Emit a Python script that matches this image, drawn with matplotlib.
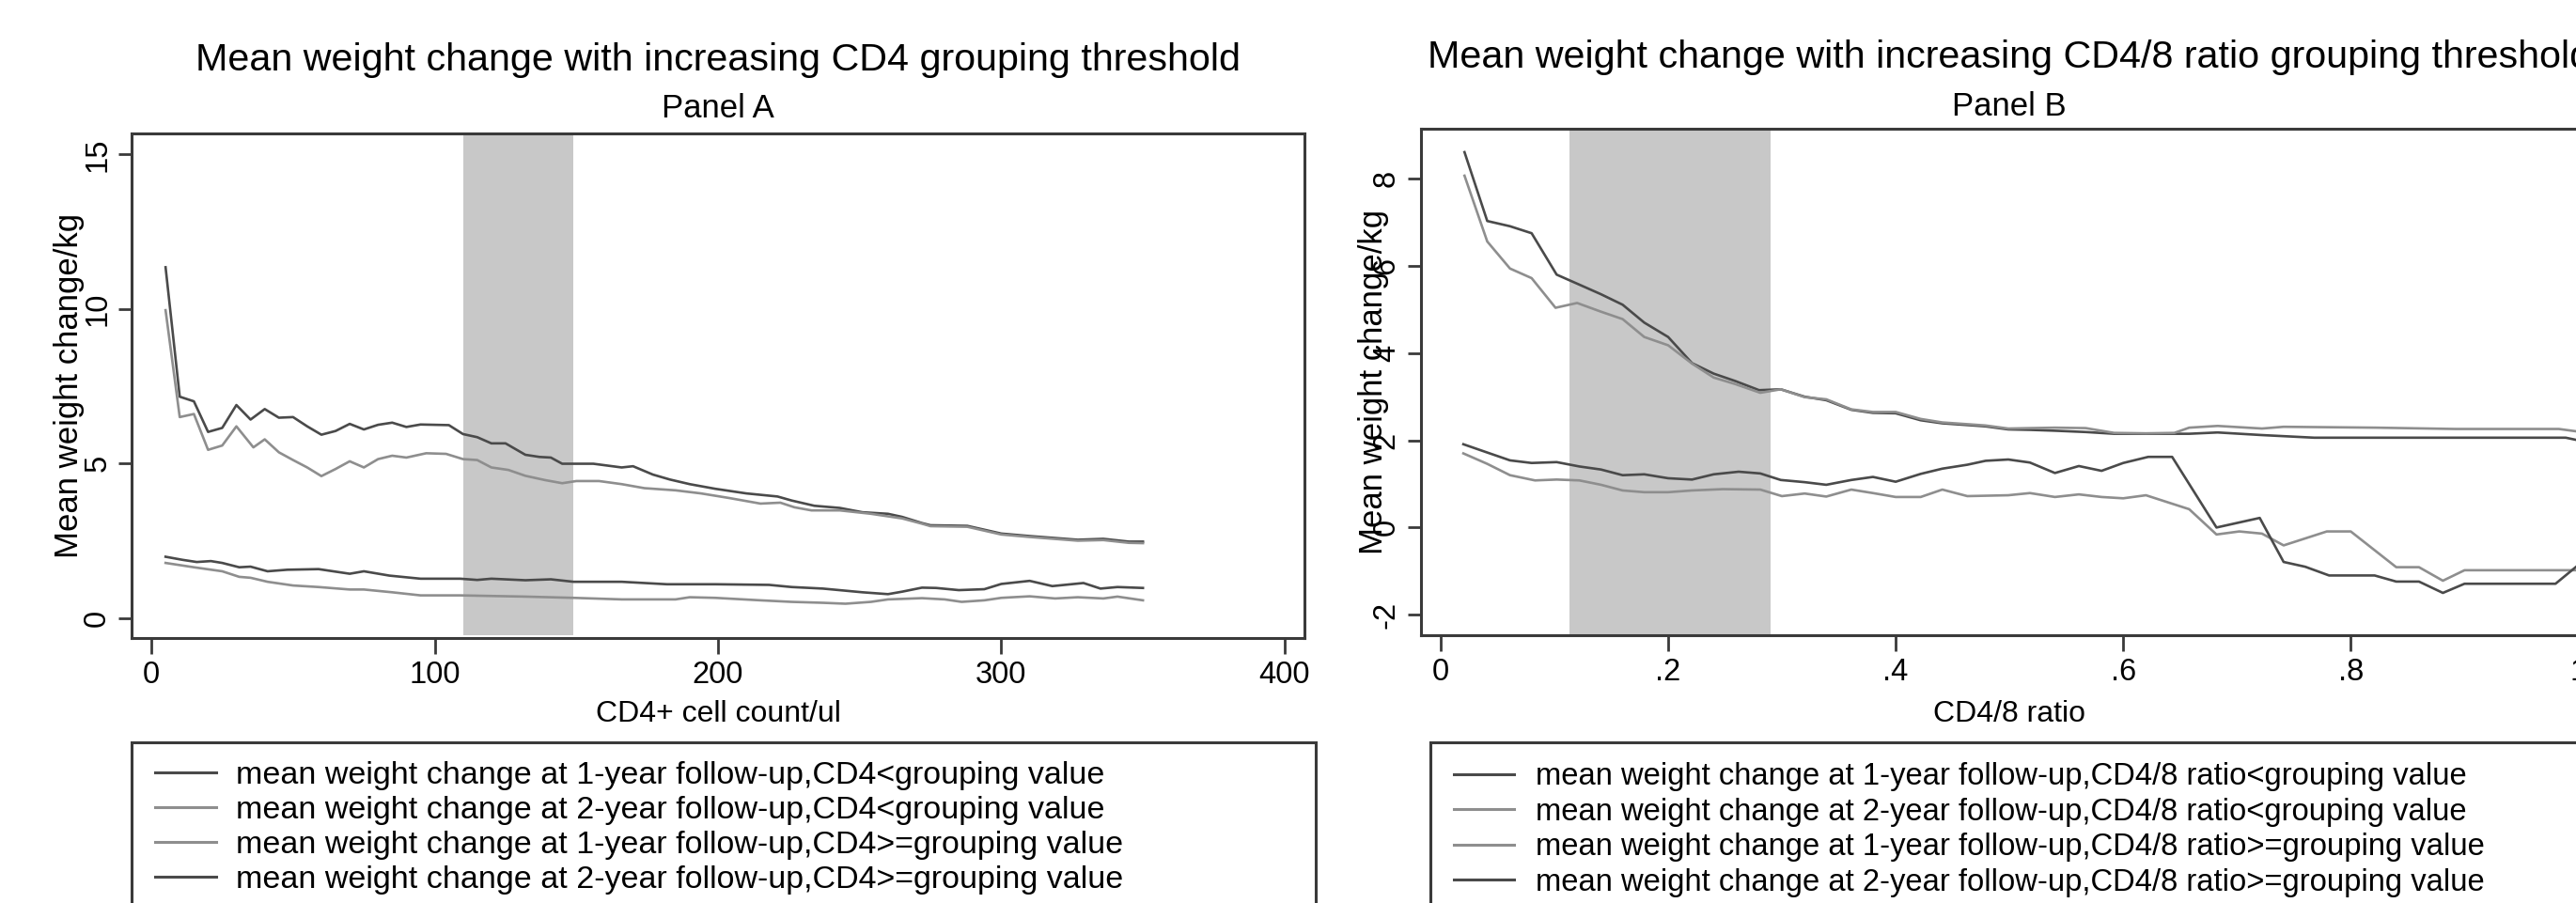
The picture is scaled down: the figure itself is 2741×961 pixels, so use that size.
import matplotlib
matplotlib.use('Agg')
import matplotlib.pyplot as plt
from matplotlib.lines import Line2D
from matplotlib.patches import Rectangle

plt.rcParams['font.family'] = ['Liberation Sans', 'DejaVu Sans']

# figure size in pixels
W, H = 2741, 961
DARK = '#4a4a4a'
LIGHT = '#8e8e8e'
SHADE = '#c8c8c8'

# ---- Panel A: CD4 threshold ----
a_x_1yr_lo = [5, 10, 15, 20, 25, 30, 35, 40, 45, 50, 55, 60, 65, 70, 75, 80, 85, 90, 95, 105,
              110, 115, 120, 125, 132, 137, 141, 145, 156, 166, 170, 177, 183, 190, 199, 210,
              221, 226, 234, 243, 251, 260, 265, 272, 275, 288, 300, 310, 327, 336, 345, 350]
a_1yr_lo = [11.35, 7.16, 7.01, 6.02, 6.15, 6.89, 6.42, 6.76, 6.48, 6.5, 6.2, 5.93, 6.05, 6.28,
            6.1, 6.25, 6.32, 6.18, 6.26, 6.24, 5.95, 5.85, 5.65, 5.65, 5.28, 5.21, 5.19, 4.99,
            4.99, 4.87, 4.91, 4.64, 4.48, 4.33, 4.18, 4.03, 3.93, 3.8, 3.63, 3.56, 3.42, 3.37,
            3.27, 3.07, 3.0, 2.98, 2.73, 2.65, 2.53, 2.56, 2.47, 2.47]

a_x_2yr_lo = [5, 10, 15, 20, 25, 30, 36, 40, 45, 50, 55, 60, 65, 70, 75, 80, 85, 90, 97, 104,
              110, 115, 120, 126, 132, 139, 145, 150, 158, 166, 174, 185, 194, 204, 215, 222,
              227, 233, 243, 254, 265, 272, 275, 288, 300, 310, 327, 336, 345, 350]
a_2yr_lo = [9.96, 6.5, 6.6, 5.44, 5.58, 6.2, 5.52, 5.78, 5.36, 5.11, 4.87, 4.59, 4.82, 5.07,
            4.87, 5.14, 5.25, 5.19, 5.33, 5.31, 5.14, 5.11, 4.87, 4.79, 4.6, 4.46, 4.36, 4.43,
            4.43, 4.33, 4.2, 4.13, 4.03, 3.88, 3.7, 3.73, 3.58, 3.48, 3.48, 3.37, 3.22, 3.05,
            2.97, 2.95, 2.7, 2.62, 2.5, 2.52, 2.43, 2.42]

a_x_1yr_hi = [5, 15, 25, 31, 35, 41, 50, 59, 70, 75, 85, 95, 109, 132, 149, 166, 185, 190, 199,
              215, 226, 237, 245, 254, 260, 272, 280, 286, 294, 300, 310, 319, 327, 336, 341, 350]
a_1yr_hi = [1.78, 1.64, 1.51, 1.33, 1.3, 1.17, 1.05, 1.0, 0.92, 0.92, 0.83, 0.73, 0.73, 0.69,
            0.65, 0.6, 0.6, 0.67, 0.65, 0.57, 0.52, 0.49, 0.46, 0.52, 0.6, 0.64, 0.6, 0.52,
            0.57, 0.65, 0.7, 0.63, 0.67, 0.63, 0.69, 0.57]

a_x_2yr_hi = [5, 11, 16, 21, 25, 31, 35, 41, 48, 59, 70, 75, 84, 95, 109, 115, 120, 132, 141,
              149, 166, 182, 199, 218, 226, 237, 251, 260, 265, 272, 277, 285, 294, 300, 310,
              318, 329, 335, 341, 350]
a_2yr_hi = [1.98, 1.88, 1.81, 1.84, 1.78, 1.64, 1.66, 1.51, 1.56, 1.58, 1.43, 1.51, 1.37, 1.27,
            1.27, 1.23, 1.27, 1.22, 1.25, 1.17, 1.17, 1.09, 1.09, 1.07, 1.0, 0.95, 0.83, 0.77,
            0.85, 0.98, 0.97, 0.9, 0.93, 1.1, 1.2, 1.03, 1.13, 0.95, 1.0, 0.97]

a_band = (110, 149)
a_xticks = [0, 100, 200, 300, 400]
a_yticks = [0, 5, 10, 15]

# ---- Panel B: CD4/8 ratio threshold ----
b_x_1yr_lo = [0.021, 0.041, 0.061, 0.080, 0.102, 0.122, 0.141, 0.160, 0.179, 0.200, 0.221,
              0.240, 0.259, 0.280, 0.299, 0.320, 0.339, 0.361, 0.380, 0.400, 0.422, 0.441,
              0.463, 0.479, 0.499, 0.518, 0.540, 0.567, 0.592, 0.658, 0.683, 0.722, 0.768,
              0.809, 0.892, 0.989, 1.0]
b_1yr_lo = [8.61, 7.03, 6.91, 6.75, 5.80, 5.57, 5.35, 5.11, 4.70, 4.37, 3.77, 3.53, 3.36, 3.15,
            3.17, 3.00, 2.92, 2.70, 2.63, 2.62, 2.46, 2.39, 2.35, 2.32, 2.25, 2.24, 2.22, 2.19,
            2.15, 2.15, 2.18, 2.12, 2.06, 2.06, 2.06, 2.06, 2.0]

b_x_2yr_lo = [0.021, 0.041, 0.061, 0.080, 0.101, 0.120, 0.141, 0.160, 0.179, 0.200, 0.221,
              0.240, 0.259, 0.281, 0.299, 0.320, 0.339, 0.361, 0.380, 0.400, 0.422, 0.441,
              0.463, 0.479, 0.499, 0.518, 0.540, 0.567, 0.592, 0.620, 0.645, 0.658, 0.683,
              0.722, 0.741, 0.823, 0.892, 0.983, 1.0]
b_2yr_lo = [8.07, 6.56, 5.94, 5.72, 5.04, 5.15, 4.95, 4.78, 4.37, 4.18, 3.76, 3.44, 3.29, 3.09,
            3.17, 2.99, 2.94, 2.71, 2.65, 2.65, 2.49, 2.41, 2.37, 2.34, 2.27, 2.28, 2.29, 2.28,
            2.17, 2.16, 2.17, 2.29, 2.33, 2.27, 2.31, 2.29, 2.26, 2.26, 2.20]

b_x_1yr_hi = [0.020, 0.041, 0.061, 0.083, 0.102, 0.122, 0.141, 0.160, 0.179, 0.200, 0.221,
              0.248, 0.281, 0.300, 0.320, 0.339, 0.361, 0.380, 0.400, 0.422, 0.441, 0.463,
              0.499, 0.518, 0.540, 0.561, 0.581, 0.600, 0.620, 0.658, 0.682, 0.702, 0.722,
              0.741, 0.779, 0.800, 0.840, 0.860, 0.881, 0.900, 0.989, 1.0]
b_1yr_hi = [1.70, 1.46, 1.20, 1.08, 1.10, 1.08, 0.98, 0.85, 0.81, 0.81, 0.85, 0.88, 0.87, 0.72,
            0.78, 0.71, 0.87, 0.79, 0.70, 0.70, 0.87, 0.72, 0.74, 0.79, 0.70, 0.76, 0.70, 0.67,
            0.74, 0.42, -0.16, -0.09, -0.14, -0.41, -0.09, -0.09, -0.91, -0.91, -1.22, -0.98,
            -0.98, -0.98]

b_x_2yr_hi = [0.020, 0.041, 0.061, 0.080, 0.102, 0.122, 0.141, 0.160, 0.179, 0.200, 0.221,
              0.240, 0.262, 0.281, 0.299, 0.320, 0.339, 0.361, 0.380, 0.400, 0.422, 0.441,
              0.463, 0.479, 0.499, 0.518, 0.540, 0.561, 0.581, 0.600, 0.622, 0.643, 0.682,
              0.720, 0.741, 0.760, 0.781, 0.821, 0.840, 0.860, 0.881, 0.900, 0.980, 1.0]
b_2yr_hi = [1.91, 1.72, 1.54, 1.48, 1.50, 1.40, 1.33, 1.20, 1.22, 1.13, 1.10, 1.22, 1.28, 1.24,
            1.09, 1.04, 0.98, 1.09, 1.16, 1.05, 1.23, 1.35, 1.44, 1.53, 1.56, 1.49, 1.25, 1.41,
            1.30, 1.48, 1.62, 1.62, 0.0, 0.22, -0.79, -0.90, -1.10, -1.10, -1.24, -1.24, -1.50,
            -1.29, -1.29, -0.86]

b_band = (0.113, 0.290)
b_xticks = [0, 0.2, 0.4, 0.6, 0.8, 1.0]
b_xlabels = ['0', '.2', '.4', '.6', '.8', '1']
b_yticks = [-2, 0, 2, 4, 6, 8]
b_ylabels = ['-2', '0', '2', '4', '6', '8']

labels_a = ['mean weight change at 1-year follow-up,CD4<grouping value',
            'mean weight change at 2-year follow-up,CD4<grouping value',
            'mean weight change at 1-year follow-up,CD4>=grouping value',
            'mean weight change at 2-year follow-up,CD4>=grouping value']
labels_b = ['mean weight change at 1-year follow-up,CD4/8 ratio<grouping value',
            'mean weight change at 2-year follow-up,CD4/8 ratio<grouping value',
            'mean weight change at 1-year follow-up,CD4/8 ratio>=grouping value',
            'mean weight change at 2-year follow-up,CD4/8 ratio>=grouping value']
colors = [DARK, LIGHT, LIGHT, DARK]


fig = plt.figure(figsize=(W / 100, H / 100), dpi=100)


def add_ax(left, top, right, bottom):
    # axes from pixel box
    return fig.add_axes([left / W, 1 - bottom / H, (right - left) / W, (bottom - top) / H])


def style_ax(ax):
    for s in ax.spines.values():
        s.set_linewidth(2.2)
        s.set_color('#3a3a3a')
    ax.tick_params(axis='x', direction='out', length=12, width=2, pad=5,
                   labelsize=23.5, color='#3a3a3a')
    ax.tick_params(axis='y', direction='out', length=10, width=2, pad=5,
                   labelsize=23.5, color='#3a3a3a', labelrotation=90)
    plt.setp(ax.get_yticklabels(), va='center')
    ax.yaxis.label.set_va('center')
    ax.xaxis.label.set_va('baseline')


axA = add_ax(140, 142, 1388, 679)
axB = add_ax(1511.7, 137.3, 2764.6, 676)

# Panel A
axA.axvspan(a_band[0], a_band[1], ymin=0.006, ymax=1, color=SHADE, lw=0, zorder=0)
axA.plot(a_x_1yr_lo, a_1yr_lo, color=DARK, lw=1.9)
axA.plot(a_x_2yr_lo, a_2yr_lo, color=LIGHT, lw=1.9)
axA.plot(a_x_1yr_hi, a_1yr_hi, color=LIGHT, lw=1.9)
axA.plot(a_x_2yr_hi, a_2yr_hi, color=DARK, lw=1.9)
axA.set_xlim(-7, 407)
axA.set_ylim(-0.65, 15.68)
axA.set_xticks(a_xticks)
axA.set_yticks(a_yticks)
axA.set_xlabel('CD4+ cell count/ul', fontsize=23)
axA.set_ylabel('Mean weight change/kg', fontsize=25)
style_ax(axA)
axA.xaxis.set_label_coords(0.5, (679 - 768) / 537)
axA.yaxis.set_label_coords((74 - 140) / 1248, 0.5)

# Panel B
axB.axvspan(b_band[0], b_band[1], ymin=0.0, ymax=1, color=SHADE, lw=0, zorder=0)
axB.plot(b_x_1yr_lo, b_1yr_lo, color=DARK, lw=1.9)
axB.plot(b_x_2yr_lo, b_2yr_lo, color=LIGHT, lw=1.9)
axB.plot(b_x_1yr_hi, b_1yr_hi, color=LIGHT, lw=1.9)
axB.plot(b_x_2yr_hi, b_2yr_hi, color=DARK, lw=1.9)
axB.set_xlim(-0.0175, 1.0175)
axB.set_ylim(-2.47, 9.14)
axB.set_xticks(b_xticks)
axB.set_xticklabels(b_xlabels)
axB.set_yticks(b_yticks)
axB.set_yticklabels(b_ylabels)
axB.set_xlabel('CD4/8 ratio', fontsize=23)
axB.set_ylabel('Mean weight change/kg', fontsize=25)
style_ax(axB)
axB.xaxis.set_label_coords(0.5, (676 - 768) / 538.7)
axB.yaxis.set_label_coords((1462 - 1511.7) / 1252.9, 0.5)

# titles
fig.text(764 / W, 1 - 75 / H, 'Mean weight change with increasing CD4 grouping threshold',
         ha='center', va='baseline', fontsize=29.7)
fig.text(764 / W, 1 - 125 / H, 'Panel A', ha='center', va='baseline', fontsize=25)
fig.text(2138 / W, 1 - 72 / H, 'Mean weight change with increasing CD4/8 ratio grouping threshold',
         ha='center', va='baseline', fontsize=29.7)
fig.text(2138 / W, 1 - 123 / H, 'Panel B', ha='center', va='baseline', fontsize=25)

# legend boxes (run off the bottom / right edge like the original)
fig.add_artist(Rectangle((140 / W, -0.1), (1400 - 140) / W, 1.1 - 790 / H,
                         transform=fig.transFigure, fill=False, lw=2.2, ec='#3a3a3a'))
fig.add_artist(Rectangle((1522 / W, -0.1), 0.5, 1.1 - 790 / H,
                         transform=fig.transFigure, fill=False, lw=2.2, ec='#3a3a3a'))

handles = [Line2D([], [], color=c, lw=2.2) for c in colors]
legA = axA.legend(handles, labels_a, loc='upper left', bbox_to_anchor=(165 / W, 1 - 810 / H),
                  bbox_transform=fig.transFigure, frameon=False, borderpad=0, borderaxespad=0,
                  handlelength=1.9, handletextpad=0.62, labelspacing=0.18, fontsize=24.5)
legB = axB.legend(handles, labels_b, loc='upper left', bbox_to_anchor=(1547 / W, 1 - 811 / H),
                  bbox_transform=fig.transFigure, frameon=False, borderpad=0, borderaxespad=0,
                  handlelength=1.95, handletextpad=0.7, labelspacing=0.2, fontsize=23.6)

fig.savefig('out.png', dpi=100)
